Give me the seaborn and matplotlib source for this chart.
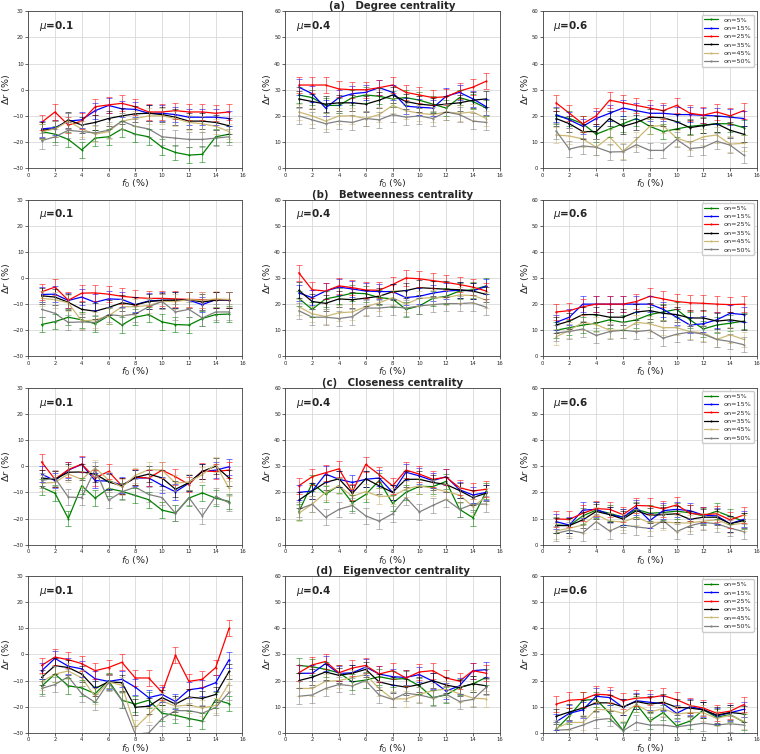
import numpy as np
import pandas as pd
import matplotlib
matplotlib.use('Agg')
import matplotlib.pyplot as plt
import seaborn as sns

# x values (f0 in %)
F0 = list(range(1, 16))
LABELS = ['on=5%', 'on=15%', 'on=25%', 'on=35%', 'on=45%', 'on=50%']
COLORS = ['green', 'blue', 'red', 'black', 'y', 'grey']
MUS = ['0.1', '0.4', '0.6']
TITLES = ['(a)   Degree centrality', '(b)   Betweenness centrality',
          '(c)   Closeness centrality', '(d)   Eigenvector centrality']

# each panel: rows in order on=5%, 15%, 25%, 35%, 45%, 50%
DEG_01 = [
    [-16, -17, -19, -23, -18.5, -18, -15, -17, -18, -22, -24, -25, -24.7, -18, -17],
    [-15, -14.5, -12, -11.5, -8, -6, -7.3, -7.5, -9, -9, -9.5, -10.5, -10.5, -10.5, -11],
    [-12.5, -8.5, -13.5, -12, -6.5, -5.8, -5.2, -6.5, -8.5, -8.5, -8, -8.5, -8.5, -9, -8.5],
    [-15.5, -15, -11.5, -13.5, -12.5, -11, -10, -9.2, -9, -9.5, -10.5, -12, -12, -12.5, -13.8],
    [-16, -15, -12, -15, -17, -16, -12, -11, -10, -10, -11, -12.5, -13, -14, -16],
    [-19.5, -18, -15.5, -16, -16.5, -15.5, -12, -14, -15, -18, -18.5, -19, -19, -18.5, -18],
]
DEG_04 = [
    [28, 27, 24, 24, 27, 28, 27.5, 26.5, 27, 26, 24.5, 23, 27, 25.5, 23],
    [31, 28.5, 23, 27, 28.5, 29, 30.8, 29, 23.7, 23.3, 23, 27.5, 29, 26.5, 23.5],
    [31.8, 31.8, 31.8, 30.3, 30, 30, 30.8, 31.8, 29, 28, 27, 27.3, 29.5, 31, 33.3],
    [26.5, 25.5, 24.5, 25, 25, 24.5, 26, 28, 25.5, 24.5, 24, 24.5, 25, 26, 26.5],
    [21.5, 20, 18, 20, 20, 19, 20.5, 24, 22, 21, 20.5, 21.5, 21, 21.5, 19],
    [20, 18.5, 17, 18, 17.5, 19, 18.5, 20.5, 19.5, 20, 19, 21.5, 20.5, 18, 17.5],
]
DEG_06 = [
    [20, 19, 17, 13, 15, 17, 19, 16, 14, 15, 16, 16.5, 17, 17, 15.5],
    [20.5, 18.5, 16, 19, 21, 23, 22, 21, 21, 20.5, 20.5, 20.2, 20, 19.5, 19],
    [25, 21, 17, 20, 26, 25, 24, 23, 22, 24, 21, 20.3, 21.5, 20, 22],
    [19, 17, 14, 14, 19, 16, 17.5, 19.5, 19.3, 17.8, 15.5, 16.3, 17, 14.5, 13],
    [12.7, 12.3, 11.2, 8, 12, 6.5, 11, 16, 16.3, 11.5, 9.8, 12, 12.7, 9.2, 9.5],
    [14.3, 7.3, 8.5, 8, 6.2, 6.3, 9, 6.8, 6.8, 11, 7.5, 8, 10.3, 8.8, 5],
]
BET_01 = [
    [-17.8, -16.7, -15, -16, -17.5, -14.5, -18, -15, -14, -16.8, -17.8, -18, -15.5, -14, -13.8],
    [-6.3, -6.2, -8.6, -7.3, -9.3, -8, -8.2, -10.2, -8.8, -8.5, -8.5, -8.5, -10.2, -8.3, -8.5],
    [-5.3, -3.5, -8.5, -5.8, -5.7, -6.2, -7, -7.5, -7.8, -7.8, -8, -8.2, -8.3, -8.3, -8.3],
    [-6.8, -7.3, -9.3, -12, -12.7, -11.3, -9.5, -10.3, -9, -8.6, -8.5, -8.3, -9.2, -8.5, -8.3],
    [-7.8, -8.3, -9.5, -16.5, -16, -14.5, -11, -11, -10.5, -9, -9, -8.3, -8.5, -8, -8.2],
    [-12, -13.5, -17, -16.8, -17, -14, -14.5, -13.8, -11, -9, -13, -12, -15.3, -13, -13],
]
BET_04 = [
    [22.2, 18, 22, 23, 24.2, 24, 22.5, 22, 18, 19.3, 22.2, 23, 25, 25.5, 27],
    [24.3, 22.5, 25, 26.5, 25.8, 25, 24.8, 24.8, 22.5, 23, 24.2, 25, 25.3, 25.1, 26.8],
    [32, 25.5, 25, 27, 26.3, 25.4, 25.3, 27.5, 30, 29.7, 29, 28.3, 27.5, 26.5, 25],
    [25.3, 21, 20.3, 22, 21.7, 22.3, 23, 24.7, 25.2, 26.3, 26, 25.7, 25.5, 25, 23.7],
    [19, 16.3, 15.3, 16.7, 17, 19, 20.5, 22.5, 20, 22.2, 22.5, 22.5, 23.5, 23.3, 21.5],
    [17.5, 15, 15, 14.5, 15.2, 18.5, 18.5, 19, 18.5, 19.3, 19.8, 20.2, 20.2, 20.5, 18.8],
]
BET_06 = [
    [10, 11, 12, 12.7, 14, 13, 14, 16, 17, 18, 14, 10.5, 12, 12.7, 13.5],
    [13, 15, 20, 20, 20, 20, 20, 20, 18, 15, 12, 12.5, 14, 16.5, 16],
    [17, 17.5, 19, 20, 20, 20, 21, 23, 22, 21, 20.5, 20.3, 20, 19.8, 20],
    [12, 13.5, 16, 16, 15, 15, 17, 17.5, 16.5, 16, 14.7, 14.7, 13.5, 14, 13.2],
    [7.5, 10, 13, 12.2, 10, 10, 13, 12.5, 11, 11, 9.5, 9, 6.5, 8.3, 6.5],
    [9, 9.5, 10.5, 8, 9.5, 10, 9.5, 10, 7, 8.5, 9.3, 8.5, 6.5, 5.7, 4.5],
]
CLO_01 = [
    [-8, -10.3, -20, -7.5, -12.2, -8.5, -9.6, -11.2, -12.8, -16.8, -18, -12.2, -10.2, -12.2, -13.5],
    [-3, -5.5, -1.5, 0.7, -5.5, -5.7, -7.2, -4.5, -4.5, -7.3, -9.8, -6.5, -2, -1.5, -0.2],
    [1.7, -5, -1.3, 0.8, -4.5, -2, -7.5, -4.2, -4.5, -1.5, -4, -7, -1.8, -2, -1.5],
    [-4.5, -5, -2.3, -2.2, -3, -6, -7.5, -4.3, -3, -4.5, -8.8, -6.3, -2, 0, -4.5],
    [-6.5, -6.2, -3, -5, -0.7, -5.2, -8, -3.5, -1.3, -1.5, -6.5, -6, -3.2, 0.7, -8.5],
    [-5.5, -4.5, -11.8, -12, -1.2, -13, -9.8, -8, -10.8, -12, -18, -12, -19, -11.5, -14],
]
CLO_04 = [
    [12.5, 23.5, 19.3, 22.6, 16, 19.2, 24.5, 15.8, 20, 22.3, 22.2, 24.2, 13.5, 10.3, 20.5],
    [20, 20.5, 27, 25, 23.8, 25, 25.5, 20, 27.7, 26.3, 24.5, 26, 21, 19, 20],
    [22.5, 26, 27.5, 29, 20.2, 30.7, 26.8, 22.5, 28.5, 27, 25, 25.8, 21.8, 20.5, 21.2],
    [17, 20.5, 23.8, 25.2, 19.7, 25.2, 22.5, 20, 25, 25, 23.8, 23, 20.7, 18, 19.7],
    [12, 15.5, 20, 22.5, 18.5, 20.3, 18.5, 18.5, 21.3, 22.5, 21.6, 20.3, 19, 14.5, 18.5],
    [13.5, 15.5, 10.5, 13.5, 15, 11, 9, 11.8, 18, 12.5, 15, 17.3, 13.5, 15.5, 15.5],
]
CLO_06 = [
    [7.5, 7.3, 11, 13.2, 12, 10.5, 13.5, 12, 12.3, 12.8, 12.2, 11, 12.8, 10.8, 9],
    [8.8, 7.5, 13.2, 13.5, 11.5, 10.5, 14.2, 9.2, 13, 13.5, 13, 11.3, 11, 8, 9.7],
    [9.8, 9.7, 12, 13.8, 13.5, 11.5, 15, 14.8, 13.7, 15.2, 12, 11.5, 11.8, 9.5, 11.3],
    [7.3, 7.3, 9.5, 12.7, 11.5, 9.8, 13, 11.2, 11.5, 11.8, 9.7, 10.5, 10.5, 8, 9.2],
    [5.2, 6.3, 7.5, 11.5, 9, 8.7, 10.5, 8.3, 8.7, 8.3, 8.3, 9, 9.5, 7.5, 8.3],
    [4.3, 5.5, 4.5, 8.8, 5.2, 7.5, 6.8, 6.2, 9.2, 5, 7.2, 8.5, 8, 6.3, 5],
]
EIG_01 = [
    [-12.2, -7.5, -12, -12.8, -15, -10, -17.5, -19, -17.5, -22.5, -23.3, -24.5, -25.5, -17.3, -18.8],
    [-6.3, -1.5, -4.5, -5.5, -9.3, -10.3, -9.5, -12.5, -16.5, -15.3, -18, -13.5, -12.8, -10.8, -2],
    [-4.2, -1, -2, -3.5, -6.2, -5, -3, -9, -9, -14.5, -0.3, -10.3, -9.5, -5, 10],
    [-8.8, -4.3, -5, -7.5, -13, -10.5, -10.8, -20.2, -19.8, -16.5, -19, -16.3, -16.8, -15.3, -6.5],
    [-10.5, -7.5, -6.3, -9, -16, -10.5, -11.8, -28, -23, -17.8, -19.8, -19.3, -20.5, -19.5, -11],
    [-13, -11.5, -8.5, -15, -18.3, -10.8, -17.5, -30.5, -30, -24.5, -21.5, -21.5, -22.5, -20.3, -14.5],
]
EIG_04 = [
    [25.8, 25.3, 24.3, 23, 19.5, 20.2, 21.5, 20.5, 20.8, 18, 13.5, 14.5, 17.5, 18.7, 21.3],
    [22.8, 22.8, 26.5, 22.7, 23, 25.2, 22.5, 21.5, 21.2, 22.3, 19.8, 16, 18, 23.8, 24.2],
    [23, 26, 27.3, 23, 24.8, 25.8, 22.5, 23.8, 21, 23.3, 23.8, 21, 19.8, 23.8, 22.8],
    [20, 21.3, 23.3, 22, 22.8, 24.3, 19.5, 18.3, 17.5, 18.5, 20, 18.3, 17.3, 18.8, 18],
    [17, 17, 19.7, 20, 21.2, 22.3, 17, 13, 13, 14.7, 16.2, 16.7, 15, 13.3, 13],
    [14, 14.5, 17, 18.5, 18, 20, 14.5, 12.8, 15.2, 14.5, 13.3, 14.8, 12, 12.8, 17.5],
]
EIG_06 = [
    [1.3, 6.5, 12.5, 12.8, 7.5, 1, 11, 4.5, 7.8, 2.7, 4.5, 8.8, 6, 7, 4.2],
    [4.2, 7.5, 8.8, 14, 13.5, 9.8, 12.3, 11.7, 11.2, 7.5, 10, 9, 6.5, 7.7, 9],
    [11, 12.5, 12.8, 14.8, 14.5, 12.3, 13.3, 13.5, 14.3, 12.7, 10.5, 9.5, 7.5, 8.3, 10.8],
    [6.3, 8, 9.5, 11.5, 11.5, 10, 12, 11, 11.7, 9.8, 9.5, 8.8, 6.8, 7.8, 7.3],
    [1.8, 4, 4, 9, 8.8, 7.5, 10.8, 8, 9.3, 7.2, 7.8, 7.7, 5.5, 6.8, 4.5],
    [1, 1.3, 3, 5, 5.5, 0.8, 4, 3, 3, 2.3, 3, 3.7, 3, 3.5, 3],
]
# approximate half-width of the error bars, per panel
ERR = [[3, 3, 3], [3, 3, 3], [3, 3, 3], [3, 3, 3]]

PANELS = [[DEG_01, DEG_04, DEG_06],
          [BET_01, BET_04, BET_06],
          [CLO_01, CLO_04, CLO_06],
          [EIG_01, EIG_04, EIG_06]]

sns.set_theme(style="whitegrid")
plt.rcParams['font.family'] = ['DejaVu Sans']
plt.rcParams['axes.edgecolor'] = '0.25'
plt.rcParams['axes.linewidth'] = 0.6
plt.rcParams['grid.color'] = '0.85'
plt.rcParams['grid.linewidth'] = 0.6
plt.rcParams['xtick.bottom'] = True
plt.rcParams['ytick.left'] = True
plt.rcParams['xtick.major.size'] = 2
plt.rcParams['ytick.major.size'] = 2
plt.rcParams['xtick.major.width'] = 0.5
plt.rcParams['ytick.major.width'] = 0.5
plt.rcParams['xtick.labelsize'] = 3.8
plt.rcParams['ytick.labelsize'] = 3.8
plt.rcParams['xtick.major.pad'] = 1.2
plt.rcParams['ytick.major.pad'] = 1.2

fig, axes = plt.subplots(4, 3, figsize=(7.6, 7.54), dpi=100)
plt.subplots_adjust(left=0.037, right=0.996, top=0.985, bottom=0.028,
                    wspace=0.2, hspace=0.2)

for r in range(4):
    for c in range(3):
        ax = axes[r, c]
        data = PANELS[r][c]
        rows = []
        for lab, vals in zip(LABELS, data):
            for x, v in zip(F0, vals):
                rows.append({'f0': x, 'dr': v, 'on': lab})
        df = pd.DataFrame(rows)
        sns.lineplot(data=df, x='f0', y='dr', hue='on', palette=COLORS,
                     hue_order=LABELS, marker='.', markersize=3,
                     markeredgewidth=0, linewidth=0.9, ax=ax,
                     legend=(c == 2))
        for lab, col, vals in zip(LABELS, COLORS, data):
            ax.errorbar(F0, vals, yerr=ERR[r][c], fmt='none', ecolor=col,
                        elinewidth=0.7, capsize=2.5, capthick=0.7, alpha=0.55)

        ax.set_xlim(0, 16)
        ax.set_xticks(range(0, 17, 2))
        if c == 0:
            ax.set_ylim(-30, 30)
            ax.set_yticks(range(-30, 31, 10))
        else:
            ax.set_ylim(0, 60)
            ax.set_yticks(range(0, 61, 10))
        ax.set_xlabel('$f_0$ (%)', fontsize=6.8, labelpad=0)
        ax.set_ylabel('$\\Delta r$ (%)', fontsize=6.8, labelpad=0.5)
        ax.text(0.05, 0.95, '$\\mu$=' + MUS[c], transform=ax.transAxes,
                fontsize=7.5, fontweight='bold', va='top', ha='left')
        if c == 1:
            ax.set_title(TITLES[r], fontsize=7.3, fontweight='bold', pad=1.2)
        if c == 2:
            ax.legend(loc='upper right', fontsize=4.6, frameon=True,
                      handlelength=2.2, labelspacing=0.45, borderpad=0.4,
                      framealpha=1, edgecolor='0.8')

plt.savefig('out.png', dpi=100)
